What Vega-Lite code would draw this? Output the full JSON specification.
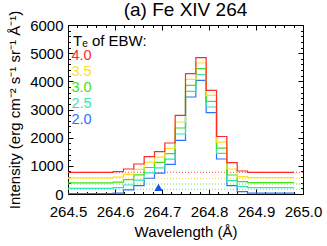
{
  "$schema": "https://vega.github.io/schema/vega-lite/v6.json",
  "width": 235,
  "height": 169,
  "autosize": {"type": "none"},
  "padding": {"left": 68, "top": 25, "right": 24, "bottom": 52},
  "background": "white",
  "title": {"text": "(a) Fe XIV 264", "font": "Liberation Sans", "fontSize": 19, "fontWeight": "normal", "color": "black", "anchor": "middle", "frame": "group", "baseline": "alphabetic", "offset": 8, "dy": 33},
  "config": {
    "view": {"stroke": null},
    "axis": {
      "labelFont": "Liberation Sans", "labelFontSize": 15, "labelColor": "black",
      "titleFont": "Liberation Sans", "titleFontSize": 15, "titleFontWeight": "normal", "titleColor": "black",
      "domainColor": "black", "tickColor": "black", "tickWidth": 1, "domainWidth": 1,
      "grid": false, "labelFlush": false, "labelOverlap": false
    }
  },
  "datasets": {
    "steps": [
      {"te": "2.0", "w": 264.5, "v": 18}, {"te": "2.0", "w": 264.596, "v": 30}, {"te": "2.0", "w": 264.618, "v": 150}, {"te": "2.0", "w": 264.64, "v": 300}, {"te": "2.0", "w": 264.662, "v": 560}, {"te": "2.0", "w": 264.684, "v": 740}, {"te": "2.0", "w": 264.706, "v": 1050}, {"te": "2.0", "w": 264.728, "v": 1906}, {"te": "2.0", "w": 264.75, "v": 3444}, {"te": "2.0", "w": 264.772, "v": 4036}, {"te": "2.0", "w": 264.794, "v": 2886}, {"te": "2.0", "w": 264.816, "v": 1243}, {"te": "2.0", "w": 264.838, "v": 295}, {"te": "2.0", "w": 264.86, "v": 82}, {"te": "2.0", "w": 264.882, "v": 30}, {"te": "2.0", "w": 264.981, "v": 30},
      {"te": "2.5", "w": 264.5, "v": 202}, {"te": "2.5", "w": 264.596, "v": 225}, {"te": "2.5", "w": 264.618, "v": 320}, {"te": "2.5", "w": 264.64, "v": 490}, {"te": "2.5", "w": 264.662, "v": 750}, {"te": "2.5", "w": 264.684, "v": 930}, {"te": "2.5", "w": 264.706, "v": 1240}, {"te": "2.5", "w": 264.728, "v": 2130}, {"te": "2.5", "w": 264.75, "v": 3646}, {"te": "2.5", "w": 264.772, "v": 4235}, {"te": "2.5", "w": 264.794, "v": 3089}, {"te": "2.5", "w": 264.816, "v": 1445}, {"te": "2.5", "w": 264.838, "v": 472}, {"te": "2.5", "w": 264.86, "v": 259}, {"te": "2.5", "w": 264.882, "v": 224}, {"te": "2.5", "w": 264.981, "v": 224},
      {"te": "3.0", "w": 264.5, "v": 398}, {"te": "3.0", "w": 264.596, "v": 420}, {"te": "3.0", "w": 264.618, "v": 510}, {"te": "3.0", "w": 264.64, "v": 680}, {"te": "3.0", "w": 264.662, "v": 940}, {"te": "3.0", "w": 264.684, "v": 1120}, {"te": "3.0", "w": 264.706, "v": 1430}, {"te": "3.0", "w": 264.728, "v": 2343}, {"te": "3.0", "w": 264.75, "v": 3859}, {"te": "3.0", "w": 264.772, "v": 4448}, {"te": "3.0", "w": 264.794, "v": 3291}, {"te": "3.0", "w": 264.816, "v": 1626}, {"te": "3.0", "w": 264.838, "v": 675}, {"te": "3.0", "w": 264.86, "v": 437}, {"te": "3.0", "w": 264.882, "v": 401}, {"te": "3.0", "w": 264.981, "v": 401},
      {"te": "3.5", "w": 264.5, "v": 575}, {"te": "3.5", "w": 264.596, "v": 600}, {"te": "3.5", "w": 264.618, "v": 700}, {"te": "3.5", "w": 264.64, "v": 875}, {"te": "3.5", "w": 264.662, "v": 1130}, {"te": "3.5", "w": 264.684, "v": 1310}, {"te": "3.5", "w": 264.706, "v": 1620}, {"te": "3.5", "w": 264.728, "v": 2556}, {"te": "3.5", "w": 264.75, "v": 4072}, {"te": "3.5", "w": 264.772, "v": 4651}, {"te": "3.5", "w": 264.794, "v": 3504}, {"te": "3.5", "w": 264.816, "v": 1839}, {"te": "3.5", "w": 264.838, "v": 888}, {"te": "3.5", "w": 264.86, "v": 614}, {"te": "3.5", "w": 264.882, "v": 579}, {"te": "3.5", "w": 264.981, "v": 579},
      {"te": "4.0", "w": 264.5, "v": 770}, {"te": "4.0", "w": 264.596, "v": 792}, {"te": "4.0", "w": 264.618, "v": 888}, {"te": "4.0", "w": 264.64, "v": 1065}, {"te": "4.0", "w": 264.662, "v": 1324}, {"te": "4.0", "w": 264.684, "v": 1502}, {"te": "4.0", "w": 264.706, "v": 1811}, {"te": "4.0", "w": 264.728, "v": 2794}, {"te": "4.0", "w": 264.75, "v": 4271}, {"te": "4.0", "w": 264.772, "v": 4839}, {"te": "4.0", "w": 264.794, "v": 3682}, {"te": "4.0", "w": 264.816, "v": 2041}, {"te": "4.0", "w": 264.838, "v": 1111}, {"te": "4.0", "w": 264.86, "v": 817}, {"te": "4.0", "w": 264.882, "v": 770}, {"te": "4.0", "w": 264.981, "v": 770}
    ],
    "bg": [
      {"te": "2.5", "v": 167}, {"te": "3.0", "v": 355}, {"te": "3.5", "v": 557}, {"te": "4.0", "v": 770}
    ],
    "marker": [{"w": 264.6926, "v": 238}]
  },
  "layer": [
    {
      "data": {"name": "bg"},
      "mark": {"type": "rule", "strokeDash": [1, 2], "strokeWidth": 1, "opacity": 0.85},
      "encoding": {
        "y": {"field": "v", "type": "quantitative", "scale": {"domain": [0, 6000], "nice": false, "zero": false}, "axis": null},
        "color": {"field": "te", "type": "nominal"}
      }
    },
    {
      "data": {"name": "steps"},
      "mark": {"type": "line", "interpolate": "step-after", "strokeWidth": 1.2},
      "encoding": {
        "x": {"field": "w", "type": "quantitative", "scale": {"domain": [264.5, 265.0], "nice": false, "zero": false},
          "axis": {"orient": "bottom", "values": [264.5, 264.6, 264.7, 264.8, 264.9, 265.0], "format": ".1f", "tickSize": -5, "labelPadding": 15, "title": "Wavelength (Å)", "titlePadding": 5}},
        "y": {"field": "v", "type": "quantitative", "scale": {"domain": [0, 6000], "nice": false, "zero": false},
          "axis": {"orient": "left", "values": [0, 1000, 2000, 3000, 4000, 5000, 6000], "format": "d", "tickSize": -5, "labelPadding": 10, "title": "Intensity (erg cm⁻² s⁻¹ sr⁻¹ Å⁻¹)", "titlePadding": 7}},
        "color": {"field": "te", "type": "nominal",
          "scale": {"domain": ["4.0", "3.5", "3.0", "2.5", "2.0"], "range": ["#FF2A2A", "#FFE020", "#44E01A", "#2EE8B4", "#2A72FF"]},
          "legend": {"orient": "none", "legendX": 5, "legendY": 9, "direction": "vertical", "title": "Tₑ of EBW:", "titleFont": "Liberation Sans", "titleFontSize": 15, "titleFontWeight": "normal", "titleColor": "black", "titlePadding": 0, "labelFont": "Liberation Sans", "labelFontSize": 14.5, "symbolType": "circle", "symbolSize": 1, "symbolOpacity": 0, "symbolStrokeWidth": 0, "labelOffset": -16, "rowPadding": 0, "clipHeight": 14.5, "padding": 0,
            "encode": {"labels": {"update": {"fill": {"scale": "color", "field": "value"}}}}}}
      }
    },
    {
      "data": {"name": "steps"},
      "mark": {"type": "line", "strokeOpacity": 0},
      "encoding": {
        "x": {"field": "w", "type": "quantitative", "axis": {"orient": "bottom", "values": [264.52, 264.54, 264.56, 264.58, 264.62, 264.64, 264.66, 264.68, 264.72, 264.74, 264.76, 264.78, 264.82, 264.84, 264.86, 264.88, 264.92, 264.94, 264.96, 264.98], "tickSize": -2.5, "labels": false, "domain": false, "title": null}},
        "y": {"field": "v", "type": "quantitative", "axis": {"orient": "left", "values": [200, 400, 600, 800, 1200, 1400, 1600, 1800, 2200, 2400, 2600, 2800, 3200, 3400, 3600, 3800, 4200, 4400, 4600, 4800, 5200, 5400, 5600, 5800], "tickSize": -2.5, "labels": false, "domain": false, "title": null}}
      }
    },
    {
      "data": {"name": "steps"},
      "mark": {"type": "line", "strokeOpacity": 0},
      "encoding": {
        "x": {"field": "w", "type": "quantitative", "axis": {"orient": "top", "values": [264.5, 264.6, 264.7, 264.8, 264.9, 265.0], "tickSize": -5, "labels": false, "title": null}},
        "y": {"field": "v", "type": "quantitative", "axis": {"orient": "right", "values": [0, 1000, 2000, 3000, 4000, 5000, 6000], "tickSize": -5, "labels": false, "title": null}}
      }
    },
    {
      "data": {"name": "marker"},
      "mark": {"type": "point", "shape": "triangle-up", "filled": true, "size": 70, "color": "#1456E6", "opacity": 1},
      "encoding": {
        "x": {"field": "w", "type": "quantitative", "axis": {"orient": "top", "values": [264.52, 264.54, 264.56, 264.58, 264.62, 264.64, 264.66, 264.68, 264.72, 264.74, 264.76, 264.78, 264.82, 264.84, 264.86, 264.88, 264.92, 264.94, 264.96, 264.98], "tickSize": -2.5, "labels": false, "domain": false, "title": null}},
        "y": {"field": "v", "type": "quantitative", "axis": {"orient": "right", "values": [200, 400, 600, 800, 1200, 1400, 1600, 1800, 2200, 2400, 2600, 2800, 3200, 3400, 3600, 3800, 4200, 4400, 4600, 4800, 5200, 5400, 5600, 5800], "tickSize": -2.5, "labels": false, "domain": false, "title": null}}
      }
    }
  ],
  "resolve": {"axis": {"x": "independent", "y": "independent"}}
}
